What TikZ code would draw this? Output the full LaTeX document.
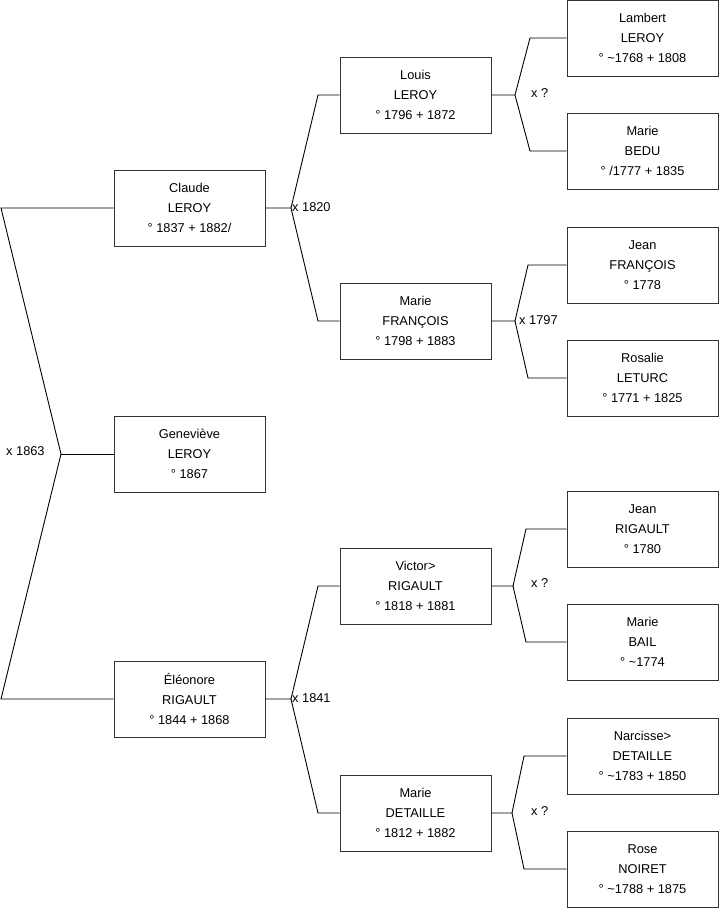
\documentclass[tikz,border=0pt]{standalone}
\usepackage{fontspec}
\setmainfont{Liberation Sans}
\begin{document}
\begin{tikzpicture}[x=1pt,y=-1pt,
  person/.style={draw=black!80,line width=1pt,fill=white,rectangle,minimum width=151pt,minimum height=76pt,inner sep=0pt,align=center,font=\fontsize{12.8}{20}\selectfont},
  link/.style={draw=black,line width=0.9pt},
  lbl/.style={anchor=west,inner sep=0pt,font=\fontsize{12.8}{14}\selectfont}]
\useasboundingbox (0,0) rectangle (719,908);
% generation 1
\node[person] (claude) at (189.5,208) {Claude\\LEROY\\° 1837 + 1882/};
\node[person] (genevieve) at (189.5,454) {Geneviève\\LEROY\\° 1867};
\node[person] (eleonore) at (189.5,699) {Éléonore\\RIGAULT\\° 1844 + 1868};
% generation 2
\node[person] (louis) at (415.5,95) {Louis\\LEROY\\° 1796 + 1872};
\node[person] (mariefr) at (415.5,321) {Marie\\FRANÇOIS\\° 1798 + 1883};
\node[person] (victor) at (415.5,586) {Victor>\\RIGAULT\\° 1818 + 1881};
\node[person] (mariede) at (415.5,813) {Marie\\DETAILLE\\° 1812 + 1882};
% generation 3
\node[person] (lambert) at (642.5,38) {Lambert\\LEROY\\° \textasciitilde1768 + 1808};
\node[person] (bedu) at (642.5,151) {Marie\\BEDU\\° /1777 + 1835};
\node[person] (jeanfr) at (642.5,265) {Jean\\FRANÇOIS\\° 1778};
\node[person] (rosalie) at (642.5,378) {Rosalie\\LETURC\\° 1771 + 1825};
\node[person] (jeanri) at (642.5,529) {Jean\\RIGAULT\\° 1780};
\node[person] (bail) at (642.5,642) {Marie\\BAIL\\° \textasciitilde1774};
\node[person] (narcisse) at (642.5,756) {Narcisse>\\DETAILLE\\° \textasciitilde1783 + 1850};
\node[person] (rose) at (642.5,869) {Rose\\NOIRET\\° \textasciitilde1788 + 1875};
% fork coordinates
\coordinate (v0) at (61,454);
\coordinate (a0) at (1,208);
\coordinate (b0) at (1,699);
\coordinate (v1) at (291,208);
\coordinate (a1) at (318,95);
\coordinate (b1) at (318,321);
\coordinate (v2) at (291,699);
\coordinate (a2) at (318,586);
\coordinate (b2) at (318,813);
\coordinate (v3) at (515,95);
\coordinate (a3) at (530,38);
\coordinate (b3) at (530,151);
\coordinate (v4) at (515,321);
\coordinate (a4) at (528,265);
\coordinate (b4) at (528,378);
\coordinate (v5) at (513,586);
\coordinate (a5) at (526,529);
\coordinate (b5) at (526,642);
\coordinate (v6) at (512,813);
\coordinate (a6) at (524,756);
\coordinate (b6) at (524,869);
% connectors
\draw[link] (claude.west) -- (a0) -- (v0) -- (b0) -- (eleonore.west);
\draw[link] (v0) -- (genevieve.west);
\draw[link] (claude.east) -- (v1) -- (a1) -- (louis.west);
\draw[link] (v1) -- (b1) -- (mariefr.west);
\draw[link] (eleonore.east) -- (v2) -- (a2) -- (victor.west);
\draw[link] (v2) -- (b2) -- (mariede.west);
\draw[link] (louis.east) -- (v3) -- (a3) -- (lambert.west);
\draw[link] (v3) -- (b3) -- (bedu.west);
\draw[link] (mariefr.east) -- (v4) -- (a4) -- (jeanfr.west);
\draw[link] (v4) -- (b4) -- (rosalie.west);
\draw[link] (victor.east) -- (v5) -- (a5) -- (jeanri.west);
\draw[link] (v5) -- (b5) -- (bail.west);
\draw[link] (mariede.east) -- (v6) -- (a6) -- (narcisse.west);
\draw[link] (v6) -- (b6) -- (rose.west);
% labels
\node[lbl] (m0) at (6,451) {x 1863};
\node[lbl] (m1) at (292,207) {x 1820};
\node[lbl] (m2) at (292,698) {x 1841};
\node[lbl] (m3) at (531,93) {x ?};
\node[lbl] (m4) at (519,320) {x 1797};
\node[lbl] (m5) at (531,583) {x ?};
\node[lbl] (m6) at (531,811) {x ?};
\end{tikzpicture}
\end{document}
